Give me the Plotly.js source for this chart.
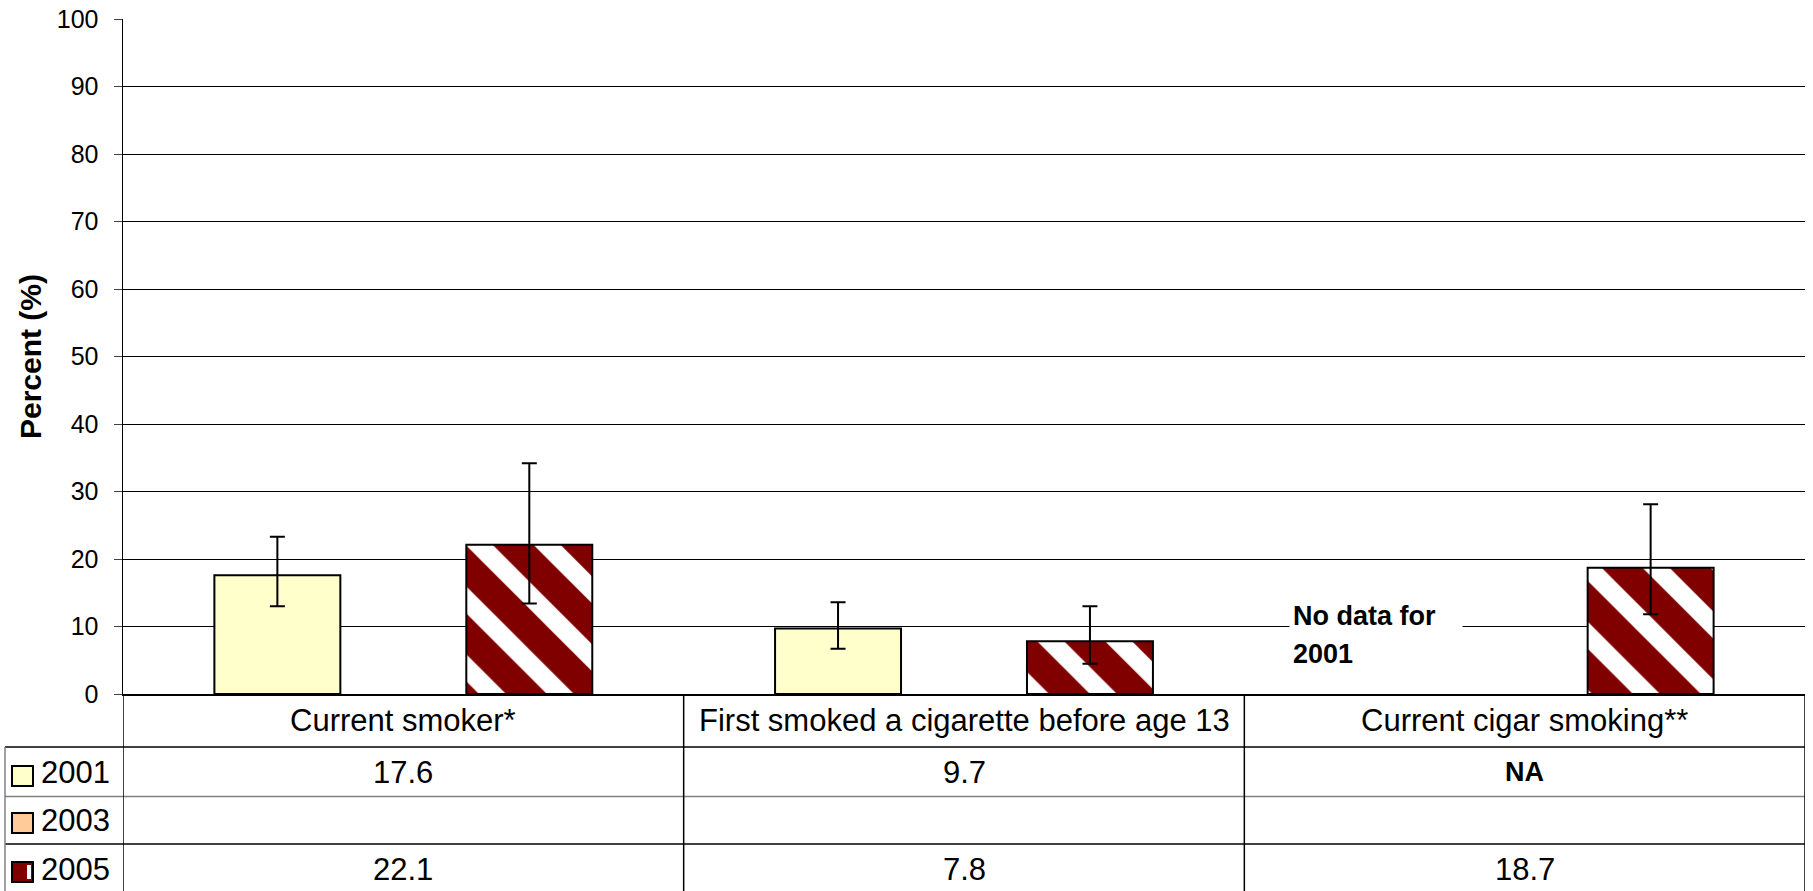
<!DOCTYPE html>
<html>
<head>
<meta charset="utf-8">
<script src="https://cdn.plot.ly/plotly-3.0.1.min.js"></script>
<style>
  html, body { margin: 0; padding: 0; background: #ffffff; }
  #chart { width: 1813px; height: 891px; }
</style>
</head>
<body>
<div id="chart"></div>
<script>
// ---------------- DATA ----------------
const categories = ['Current smoker*', 'First smoked a cigarette before age 13', 'Current cigar smoking**'];
const seriesNames = ['2001', '2003', '2005'];
const values2001 = [17.6, 9.7, null];
const values2003 = [null, null, null];
const values2005 = [22.1, 7.8, 18.7];
// 95% confidence limits
const ciUpper2001 = [23.3, 13.6, null];
const ciLower2001 = [13.0, 6.7, null];
const ciUpper2005 = [34.2, 13.0, 28.1];
const ciLower2005 = [13.4, 4.5, 11.8];
// which missing values are shown as "NA" in the data table
const naShown2001 = [false, false, true];
const naShown2003 = [false, false, false];
const naShown2005 = [false, false, false];
const yTickVals = [0, 10, 20, 30, 40, 50, 60, 70, 80, 90, 100];
const noDataNote = ['No data for', '2001'];

// ---------------- STYLE ----------------
const FONT = 'Arial, "Liberation Sans", sans-serif';
const colors = ['#FFFFCC', '#FFCC99', '#800000'];

// plot-area geometry (pixels) used to place the table drawn under the axis
const W = 1813, H = 891;
const M = {l: 123, r: 8, t: 19, b: 197};
const plotH = H - M.t - M.b;
const plotW = W - M.l - M.r;
const py = px => (H - M.b - px) / plotH;       // pixel row -> paper y
const pxX = px => (px - M.l) / plotW;           // pixel column -> paper x

function plus(vals, up) { return vals.map((v, i) => (v == null || up[i] == null) ? null : +(up[i] - v).toFixed(2)); }
function minus(vals, lo) { return vals.map((v, i) => (v == null || lo[i] == null) ? null : +(v - lo[i]).toFixed(2)); }

const errStyle = {color: '#000000', thickness: 2, width: 7.5};

const traces = [
  {
    type: 'bar', name: seriesNames[0], x: categories, y: values2001,
    marker: {color: colors[0], line: {color: '#000000', width: 2}},
    error_y: Object.assign({type: 'data', symmetric: false, array: plus(values2001, ciUpper2001), arrayminus: minus(values2001, ciLower2001)}, errStyle),
    hoverinfo: 'x+y+name'
  },
  {
    type: 'bar', name: seriesNames[1], x: categories, y: values2003,
    marker: {color: colors[1], line: {color: '#000000', width: 2}},
    hoverinfo: 'x+y+name'
  },
  {
    type: 'bar', name: seriesNames[2], x: categories, y: values2005,
    marker: {color: '#ffffff', line: {color: '#000000', width: 2},
      pattern: {shape: '\\', fgcolor: colors[2], bgcolor: '#ffffff', size: 48, solidity: 0.6, fillmode: 'replace'}},
    error_y: Object.assign({type: 'data', symmetric: false, array: plus(values2005, ciUpper2005), arrayminus: minus(values2005, ciLower2005)}, errStyle),
    hoverinfo: 'x+y+name'
  }
];

// ---------------- TABLE UNDER THE AXIS ----------------
const rowCat = py(720);
const rowY = [py(772), py(820), py(869)];
const tableVals = [values2001, values2003, values2005];
const tableNA = [naShown2001, naShown2003, naShown2005];

const annotations = [];
categories.forEach((c, i) => {
  annotations.push({xref: 'x', yref: 'paper', x: i, y: rowCat, text: c, showarrow: false,
    xanchor: 'center', yanchor: 'middle', font: {family: FONT, size: 31, color: '#000000'}});
});
tableVals.forEach((vals, r) => {
  vals.forEach((v, i) => {
    let txt = null, bold = false;
    if (v != null) txt = v.toFixed(1);
    else if (tableNA[r][i]) { txt = '<b>NA</b>'; bold = true; }
    if (txt != null) {
      annotations.push({xref: 'x', yref: 'paper', x: i, y: rowY[r], text: txt, showarrow: false,
        xanchor: 'center', yanchor: 'middle', font: {family: FONT, size: bold ? 27 : 31, color: '#000000'}});
    }
  });
  annotations.push({xref: 'paper', yref: 'paper', x: pxX(39), y: rowY[r], text: seriesNames[r], showarrow: false,
    xanchor: 'left', yanchor: 'middle', font: {family: FONT, size: 31, color: '#000000'}});
});
// "No data" note near the missing bar
annotations.push({xref: 'x', yref: 'y', x: 1.58, y: 11.6, text: '<b>' + noDataNote[0] + '</b>', showarrow: false,
  xanchor: 'left', yanchor: 'middle', align: 'left', bgcolor: '#ffffff', width: 166, borderpad: 3,
  font: {family: FONT, size: 27, color: '#000000'}});
annotations.push({xref: 'x', yref: 'y', x: 1.58, y: 5.9, text: '<b>' + noDataNote[1] + '</b>', showarrow: false,
  xanchor: 'left', yanchor: 'middle', align: 'left', width: 166, borderpad: 3,
  font: {family: FONT, size: 27, color: '#000000'}});

const shapes = [];
const yBottom = py(H + 2);
const hLines = [[py(747), '#000000'], [py(796.5), '#808080'], [py(844), '#000000']];
hLines.forEach(([y, col]) => shapes.push({type: 'line', xref: 'paper', yref: 'paper', x0: pxX(5), x1: 1, y0: y, y1: y,
  line: {color: col, width: 1.5}}));
// vertical table lines: axis continuation, category boundaries, right edge
[-0.5, 0.5, 1.5, 2.5].forEach(xv => shapes.push({type: 'line', xref: 'x', yref: 'paper', x0: xv, x1: xv, y0: 0, y1: yBottom,
  line: {color: '#000000', width: 1.5}}));
shapes.push({type: 'line', xref: 'paper', yref: 'paper', x0: pxX(5), x1: pxX(5), y0: py(747), y1: yBottom,
  line: {color: '#808080', width: 1.5}});
// legend keys
const keyCenters = [776, 823, 872];
keyCenters.forEach((cy, r) => {
  shapes.push({type: 'rect', xref: 'paper', yref: 'paper', x0: pxX(12), x1: pxX(33), y0: py(cy - 10), y1: py(cy + 10),
    fillcolor: colors[r], line: {color: '#000000', width: 2}});
});
shapes.push({type: 'rect', xref: 'paper', yref: 'paper', x0: pxX(27), x1: pxX(31), y0: py(872 - 7), y1: py(872 + 7),
  fillcolor: '#ffffff', line: {width: 0}});

const layout = {
  width: W, height: H,
  margin: M,
  paper_bgcolor: '#ffffff', plot_bgcolor: '#ffffff',
  showlegend: false,
  barmode: 'group', bargap: 0.326, bargroupgap: 0,
  font: {family: FONT, color: '#000000'},
  xaxis: {
    type: 'category', categoryorder: 'array', categoryarray: categories,
    range: [-0.5, 2.5], showticklabels: false, ticks: '',
    showline: true, linecolor: '#000000', linewidth: 2, showgrid: false, zeroline: false, fixedrange: true
  },
  yaxis: {
    range: [0, 100], tickvals: yTickVals, ticktext: yTickVals.map(String),
    ticks: 'outside', ticklen: 8, tickwidth: 1, tickcolor: '#404040', ticklabelstandoff: 10,
    tickfont: {family: FONT, size: 25, color: '#000000'},
    showgrid: true, gridcolor: '#000000', gridwidth: 1,
    showline: true, linecolor: '#000000', linewidth: 1.5, zeroline: false, fixedrange: true,
    title: {text: '<b>Percent (%)</b>', font: {family: FONT, size: 30, color: '#000000'}, standoff: 6}
  },
  annotations: annotations,
  shapes: shapes
};

Plotly.newPlot('chart', traces, layout, {displayModeBar: false, staticPlot: true});
</script>
</body>
</html>
